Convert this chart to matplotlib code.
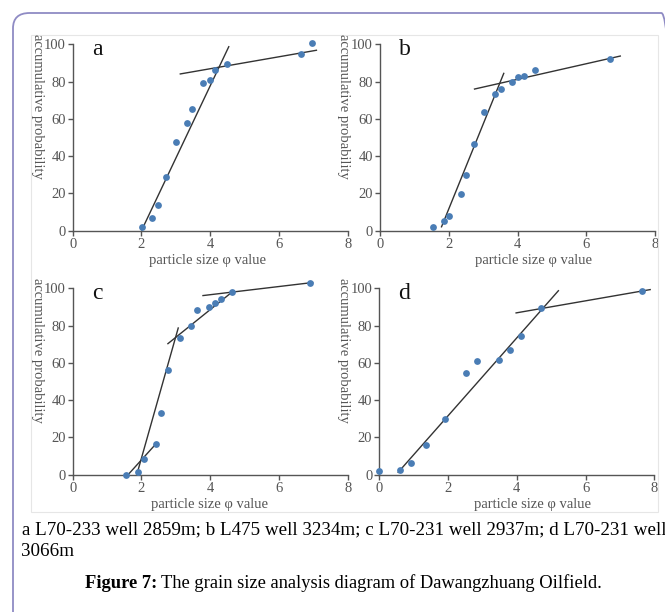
import matplotlib
matplotlib.use('Agg')
import matplotlib.pyplot as plt
from matplotlib.patches import FancyBboxPatch, Rectangle

plt.rcParams['font.family'] = ['Liberation Serif', 'DejaVu Serif']

# cumulative grain size data (phi value, accumulative probability)
a_x = [2.01, 2.32, 2.48, 2.71, 3.01, 3.32, 3.46, 3.80, 3.99, 4.15, 4.48, 6.63, 6.97]
a_y = [2.1, 7.0, 13.6, 29.0, 47.4, 58.0, 65.3, 79.2, 80.7, 86.2, 89.4, 95.0, 100.5]
a_lines = [([2.01, 4.54], [0.4, 98.7]), ([3.13, 7.09], [84.1, 96.8])]

b_x = [1.54, 1.85, 2.02, 2.35, 2.50, 2.73, 3.04, 3.35, 3.52, 3.85, 4.02, 4.19, 4.51, 6.68]
b_y = [1.8, 5.0, 7.9, 19.7, 29.7, 46.5, 63.7, 73.3, 75.8, 80.0, 82.3, 82.8, 86.2, 92.1]
b_lines = [([1.79, 3.60], [2.1, 84.4]), ([2.75, 6.99], [76.0, 93.7])]

c_x = [1.55, 1.90, 2.07, 2.42, 2.56, 2.78, 3.12, 3.43, 3.61, 3.97, 4.14, 4.30, 4.64, 6.91]
c_y = [0.0, 1.3, 8.6, 16.6, 32.9, 56.2, 73.3, 79.8, 88.4, 89.8, 91.9, 94.5, 98.0, 102.9]
c_lines = [([1.63, 2.42], [0.4, 16.5]), ([1.87, 3.07], [0.4, 78.7]),
           ([2.77, 4.65], [70.3, 98.2]), ([3.79, 6.98], [96.1, 103.1])]

d_x = [0.0, 0.61, 0.91, 1.35, 1.91, 2.52, 2.83, 3.47, 3.79, 4.12, 4.70, 7.64]
d_y = [2.1, 2.5, 6.4, 16.1, 30.0, 54.7, 60.8, 61.3, 66.7, 74.2, 89.4, 98.6]
d_lines = [([0.55, 5.21], [1.3, 98.7]), ([3.98, 7.88], [86.8, 99.3])]

xticks = [0, 2, 4, 6, 8]
yticks = [0, 20, 40, 60, 80, 100]

W, H = 665, 612
fig = plt.figure(figsize=(W / 100, H / 100), dpi=100)

# page frame and picture border
fig.patches.append(FancyBboxPatch((13 / W, -0.2), 1.0, 1.2 - 13 / H,
                                  boxstyle='round,pad=0,rounding_size=0.025',
                                  transform=fig.transFigure, fill=False,
                                  edgecolor='#8f8bc4', linewidth=1.3))
fig.patches.append(Rectangle((31 / W, 1 - 512 / H), 627 / W, 477 / H,
                             transform=fig.transFigure, fill=False,
                             edgecolor='#e6e6e6', linewidth=0.8))

# label, data, lines, axes left px, axes bottom px, ylabel x px, xlabel shift
panels = [
    ('a', a_x, a_y, a_lines, 72.7, 230.7, 37, -3),
    ('b', b_x, b_y, b_lines, 380.0, 230.7, 343, 16),
    ('c', c_x, c_y, c_lines, 72.7, 474.7, 37, -1),
    ('d', d_x, d_y, d_lines, 379.3, 474.7, 343, 16),
]
aw, ah = 275, 186.4
grey = '#555555'

for label, xs, ys, lines, left, base, ylx, shift in panels:
    ax = fig.add_axes([left / W, 1 - base / H, aw / W, ah / H])
    ax.set_xlim(0, 8)
    ax.set_ylim(0, 100)
    ax.patch.set_alpha(0)
    for s in ['top', 'right']:
        ax.spines[s].set_visible(False)
    for s in ['left', 'bottom']:
        ax.spines[s].set_color(grey)
        ax.spines[s].set_linewidth(1.0)
    ax.set_xticks(xticks)
    ax.set_yticks(yticks)
    ax.tick_params(direction='out', length=3.5, width=1.0, color=grey,
                   labelcolor=grey, labelsize=10.5, pad=1.5)
    for lx, ly in lines:
        ax.plot(lx, ly, color='#333333', linewidth=1.0, clip_on=False)
    ax.scatter(xs, ys, s=24, color='#4a7db5', zorder=3, clip_on=False,
               linewidths=0)
    ax.text(0.07, 0.97, label, transform=ax.transAxes, fontsize=17,
            ha='left', va='center', color='#111111')
    fig.text(ylx / W, 1 - (base - ah - 10) / H, 'accumulative probability',
             rotation=270, ha='center', va='top', fontsize=10.5, color=grey)
    fig.text((left + aw / 2 + shift) / W, 1 - (base + 30) / H,
             'particle size \u03c6 value',
             ha='center', va='center', fontsize=10.5, color=grey)

fig.text(21.5 / W, 1 - 530 / H,
         'a L70-233 well 2859m; b L475 well 3234m; c L70-231 well 2937m; d L70-231 well',
         ha='left', va='center', fontsize=13.7, color='black')
fig.text(21.5 / W, 1 - 552 / H, '3066m', ha='left', va='center',
         fontsize=13.7, color='black')

# bold figure number followed by regular caption text
head = fig.text(85 / W, 1 - 583 / H, 'Figure 7:', ha='left', va='center',
                fontsize=13.3, fontweight='bold', color='black')
fig.canvas.draw()
bb = head.get_window_extent()
fig.text((bb.x1 + 4) / W, 1 - 583 / H,
         'The grain size analysis diagram of Dawangzhuang Oilfield.',
         ha='left', va='center', fontsize=13.3, color='black')

fig.savefig('out.png', dpi=100)
